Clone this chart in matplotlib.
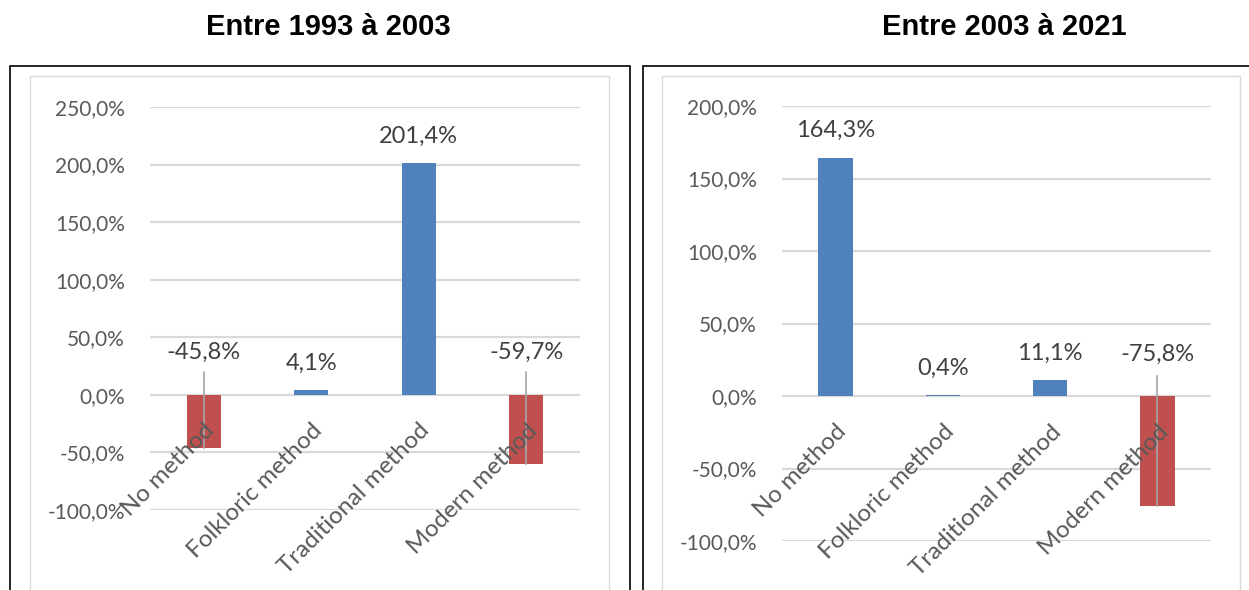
import matplotlib
matplotlib.use("Agg")
import matplotlib.pyplot as plt
import matplotlib.transforms as mtransforms
from matplotlib.patches import Rectangle

categories = ["No method", "Folkloric method", "Traditional method", "Modern method"]
titles = ["Entre 1993 à 2003", "Entre 2003 à 2021"]
values_1993_2003 = [-45.8, 4.1, 201.4, -59.7]
values_2003_2021 = [164.3, 0.4, 11.1, -75.8]
yticks_left = [-100, -50, 0, 50, 100, 150, 200, 250]
yticks_right = [-100, -50, 0, 50, 100, 150, 200]

BLUE, RED = "#4F81BD", "#C0504D"
GRID = "#D9D9D9"
TICK_INK = "#595959"
LABEL_INK = "#404040"
FONT = ["Lato", "DejaVu Sans"]

W, H = 1249, 590
fig = plt.figure(figsize=(W / 100, H / 100), dpi=100)


def fx(px):
    return px / W


def fy(py):
    return 1 - py / H


def fmt(v):
    return f"{v:.1f}".replace(".", ",") + "%"


# outer black frames + inner gray chart-area frames
for x0, x1 in [(10, 630), (643, 1260)]:
    fig.patches.append(Rectangle((fx(x0), fy(600)), fx(x1 - x0), fy(65.5) - fy(600),
                                 transform=fig.transFigure, fill=False,
                                 ec="black", lw=1.2))
for x0, x1 in [(30, 609), (662, 1240)]:
    fig.patches.append(Rectangle((fx(x0), fy(600)), fx(x1 - x0), fy(76) - fy(600),
                                 transform=fig.transFigure, fill=False,
                                 ec="#D9D9D9", lw=1.0))

panels = [
    # (values, yticks, ylim, axes px box, title x, neg label y, leader top y)
    (values_1993_2003, yticks_left, (-100, 250), (150, 107, 580, 510), 328, 36.5, 20),
    (values_2003_2021, yticks_right, (-100, 200), (782, 106, 1211, 541), 1004, 28.5, 14),
]

for (vals, ticks, ylim, (l, t, r, b), tx, neg_y, lead_y), title in zip(panels, titles):
    ax = fig.add_axes([fx(l), fy(b), fx(r - l), fy(t) - fy(b)])
    x = range(len(categories))
    colors = [BLUE if v >= 0 else RED for v in vals]
    ax.bar(x, vals, width=0.32, color=colors, zorder=3)
    ax.set_xlim(-0.5, len(categories) - 0.5)
    ax.set_ylim(*ylim)
    ax.set_yticks(ticks)
    ax.set_yticklabels([fmt(v) for v in ticks], family=FONT, fontsize=15, color=TICK_INK)
    ax.tick_params(axis="y", length=0, pad=18)
    ax.set_xticks([])
    ax.yaxis.grid(True, color=GRID, lw=1.6, zorder=0)
    ax.set_axisbelow(True)
    for s in ax.spines.values():
        s.set_visible(False)
    ax.patch.set_alpha(0)

    off = mtransforms.ScaledTranslation(0.0, -0.25, fig.dpi_scale_trans)
    for i, (cat, v) in enumerate(zip(categories, vals)):
        ax.text(i, 0, cat, transform=ax.transData + off, rotation=45,
                rotation_mode="anchor", ha="right", va="top",
                family=FONT, fontsize=17.5, color=TICK_INK, zorder=5)
        if v >= 0:
            ax.annotate(fmt(v), xy=(i, v), xytext=(0, 27), textcoords="offset pixels",
                        ha="center", va="center", family=FONT, fontsize=17,
                        color=LABEL_INK, zorder=6)
        else:
            ax.text(i, neg_y, fmt(v), ha="center", va="center", family=FONT,
                    fontsize=17, color=LABEL_INK, zorder=6)
            ax.plot([i, i], [lead_y, v], color="#A6A6A6", lw=1.2, zorder=4)

    fig.text(fx(tx), fy(27), title, ha="center", va="center",
             family="Liberation Sans", fontweight="bold", fontsize=21, color="black")

fig.savefig("out.png", dpi=100)
